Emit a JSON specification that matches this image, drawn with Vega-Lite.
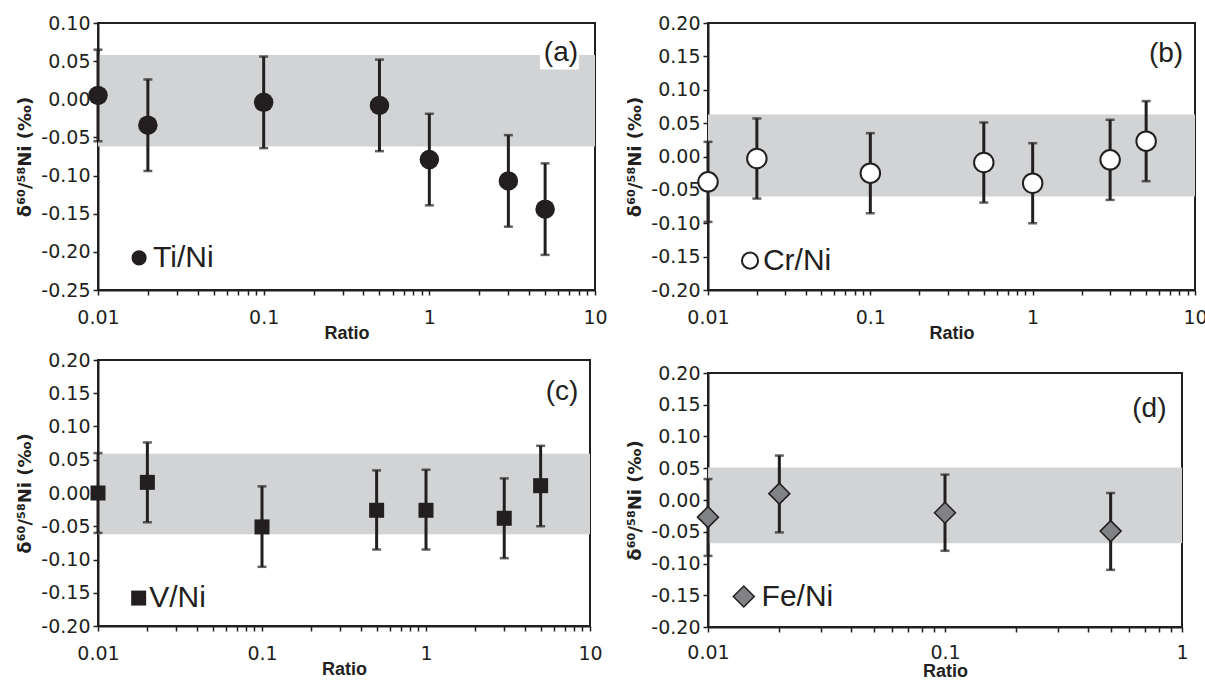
{
  "$schema": "https://vega.github.io/schema/vega-lite/v6.json",
  "background": "white",
  "padding": {"left": 15, "top": 13, "right": 5, "bottom": 2},
  "config": {
    "view": {"stroke": "#231f20", "strokeWidth": 2},
    "axis": {
      "grid": false,
      "domainColor": "#231f20",
      "domainWidth": 2,
      "tickColor": "#231f20",
      "tickWidth": 1.5,
      "tickSize": 5,
      "labelFont": "DejaVu Sans",
      "labelFontSize": 19,
      "labelColor": "#231f20",
      "labelFlush": false,
      "labelOverlap": false,
      "titleFont": "Liberation Sans",
      "titleFontSize": 18,
      "titleFontWeight": "bold",
      "titleColor": "#231f20"
    },
    "axisX": {"labelPadding": 13, "titlePadding": -3},
    "axisY": {"labelPadding": 3, "titlePadding": 6, "titleFont": "DejaVu Sans", "titleFontSize": 18, "tickCount": 30}
  },
  "datasets": {
    "ti": [
      {"ratio": 0.01, "delta": 0.005, "lo": -0.055, "hi": 0.065},
      {"ratio": 0.02, "delta": -0.034, "lo": -0.094, "hi": 0.026},
      {"ratio": 0.1, "delta": -0.004, "lo": -0.064, "hi": 0.056},
      {"ratio": 0.5, "delta": -0.008, "lo": -0.068, "hi": 0.052},
      {"ratio": 1, "delta": -0.079, "lo": -0.139, "hi": -0.019},
      {"ratio": 3, "delta": -0.107, "lo": -0.167, "hi": -0.047},
      {"ratio": 5, "delta": -0.144, "lo": -0.204, "hi": -0.084}
    ],
    "cr": [
      {"ratio": 0.01, "delta": -0.038, "lo": -0.098, "hi": 0.022},
      {"ratio": 0.02, "delta": -0.003, "lo": -0.063, "hi": 0.057},
      {"ratio": 0.1, "delta": -0.025, "lo": -0.085, "hi": 0.035},
      {"ratio": 0.5, "delta": -0.009, "lo": -0.069, "hi": 0.051},
      {"ratio": 1, "delta": -0.040, "lo": -0.100, "hi": 0.020},
      {"ratio": 3, "delta": -0.005, "lo": -0.065, "hi": 0.055},
      {"ratio": 5, "delta": 0.023, "lo": -0.037, "hi": 0.083}
    ],
    "v": [
      {"ratio": 0.01, "delta": 0.0, "lo": -0.060, "hi": 0.060},
      {"ratio": 0.02, "delta": 0.016, "lo": -0.044, "hi": 0.076},
      {"ratio": 0.1, "delta": -0.051, "lo": -0.111, "hi": 0.010},
      {"ratio": 0.5, "delta": -0.026, "lo": -0.085, "hi": 0.034},
      {"ratio": 1, "delta": -0.026, "lo": -0.085, "hi": 0.035},
      {"ratio": 3, "delta": -0.038, "lo": -0.098, "hi": 0.022},
      {"ratio": 5, "delta": 0.011, "lo": -0.050, "hi": 0.071}
    ],
    "fe": [
      {"ratio": 0.01, "delta": -0.027, "lo": -0.088, "hi": 0.033},
      {"ratio": 0.02, "delta": 0.010, "lo": -0.051, "hi": 0.070},
      {"ratio": 0.1, "delta": -0.020, "lo": -0.080, "hi": 0.040},
      {"ratio": 0.5, "delta": -0.049, "lo": -0.110, "hi": 0.011}
    ],
    "bands": [
      {"panel": "a", "lo": -0.062, "hi": 0.058},
      {"panel": "b", "lo": -0.060, "hi": 0.063},
      {"panel": "c", "lo": -0.062, "hi": 0.059},
      {"panel": "d", "lo": -0.068, "hi": 0.051}
    ],
    "one": [{}]
  },
  "hconcat": [
    {
      "spacing": 7,
      "vconcat": [
        {
          "width": 497,
          "height": 267,
          "layer": [
            {
              "data": {"name": "bands"},
              "transform": [{"filter": "datum.panel === 'a'"}],
              "mark": {"type": "rect", "color": "#d1d3d4"},
              "encoding": {
                "x": {"datum": 0.01, "type": "quantitative"},
                "x2": {"datum": 10},
                "y": {"field": "lo", "type": "quantitative", "title": "δ⁶⁰/⁵⁸Ni (‰)"},
                "y2": {"field": "hi"}
              }
            },
            {
              "data": {"name": "ti"},
              "mark": {"type": "errorbar", "color": "#231f20", "thickness": 3, "ticks": {"size": 9, "thickness": 2.5, "color": "#231f20"}},
              "encoding": {
                "x": {"field": "ratio", "type": "quantitative", "title": "Ratio",
                  "scale": {"type": "log", "domain": [0.01, 10]},
                  "axis": {"labelOverlap": false, "values": [0.01,0.02,0.03,0.04,0.05,0.06,0.07,0.08,0.09,0.1,0.2,0.3,0.4,0.5,0.6,0.7,0.8,0.9,1,2,3,4,5,6,7,8,9,10],
                    "labelExpr": "indexof([0.01,0.1,1,10], datum.value) >= 0 ? format(datum.value, '~g') : ''"}},
                "y": {"field": "lo", "type": "quantitative", "title": "δ⁶⁰/⁵⁸Ni (‰)",
                  "scale": {"domain": [-0.25, 0.10], "nice": false, "zero": false},
                  "axis": {"tickCount": 30, "values": [-0.25,-0.2,-0.15,-0.1,-0.05,0,0.05,0.1], "labelExpr": "replace(format(datum.value, '.2f'), '−', '-')"}},
                "y2": {"field": "hi"}
              }
            },
            {
              "data": {"name": "ti"},
              "mark": {"type": "point", "shape": "circle", "filled": true, "color": "#231f20", "size": 380, "opacity": 1},
              "encoding": {
                "x": {"field": "ratio", "type": "quantitative", "title": "Ratio"},
                "y": {"field": "delta", "type": "quantitative", "title": "δ⁶⁰/⁵⁸Ni (‰)"}
              }
            },
            {
              "data": {"name": "one"},
              "mark": {"type": "rect", "color": "white"},
              "encoding": {
                "x": {"datum": 4.65, "type": "quantitative"},
                "x2": {"datum": 8.0},
                "y": {"datum": 0.039, "type": "quantitative"},
                "y2": {"datum": 0.059}
              }
            },
            {
              "data": {"name": "one"},
              "mark": {"type": "text", "text": "(a)", "font": "Liberation Sans", "fontSize": 28, "align": "right", "baseline": "middle", "color": "#231f20"},
              "encoding": {
                "x": {"datum": 7.9, "type": "quantitative"},
                "y": {"datum": 0.061, "type": "quantitative"}
              }
            },
            {
              "data": {"name": "one"},
              "mark": {"type": "point", "shape": "circle", "filled": true, "color": "#231f20", "size": 230, "opacity": 1},
              "encoding": {
                "x": {"datum": 0.0177, "type": "quantitative"},
                "y": {"datum": -0.208, "type": "quantitative"}
              }
            },
            {
              "data": {"name": "one"},
              "mark": {"type": "text", "text": "Ti/Ni", "font": "Liberation Sans", "fontSize": 30, "align": "left", "baseline": "middle", "color": "#231f20"},
              "encoding": {
                "x": {"datum": 0.0215, "type": "quantitative"},
                "y": {"datum": -0.208, "type": "quantitative"}
              }
            }
          ]
        },
        {
          "width": 492,
          "height": 266,
          "layer": [
            {
              "data": {"name": "bands"},
              "transform": [{"filter": "datum.panel === 'c'"}],
              "mark": {"type": "rect", "color": "#d1d3d4"},
              "encoding": {
                "x": {"datum": 0.01, "type": "quantitative"},
                "x2": {"datum": 10},
                "y": {"field": "lo", "type": "quantitative", "title": "δ⁶⁰/⁵⁸Ni (‰)"},
                "y2": {"field": "hi"}
              }
            },
            {
              "data": {"name": "v"},
              "mark": {"type": "errorbar", "color": "#231f20", "thickness": 3, "ticks": {"size": 9, "thickness": 2.5, "color": "#231f20"}},
              "encoding": {
                "x": {"field": "ratio", "type": "quantitative", "title": "Ratio",
                  "scale": {"type": "log", "domain": [0.01, 10]},
                  "axis": {"labelOverlap": false, "values": [0.01,0.02,0.03,0.04,0.05,0.06,0.07,0.08,0.09,0.1,0.2,0.3,0.4,0.5,0.6,0.7,0.8,0.9,1,2,3,4,5,6,7,8,9,10],
                    "labelExpr": "indexof([0.01,0.1,1,10], datum.value) >= 0 ? format(datum.value, '~g') : ''"}},
                "y": {"field": "lo", "type": "quantitative", "title": "δ⁶⁰/⁵⁸Ni (‰)",
                  "scale": {"domain": [-0.2, 0.2], "nice": false, "zero": false},
                  "axis": {"tickCount": 30, "values": [-0.2,-0.15,-0.1,-0.05,0,0.05,0.1,0.15,0.2], "labelExpr": "replace(format(datum.value, '.2f'), '−', '-')"}},
                "y2": {"field": "hi"}
              }
            },
            {
              "data": {"name": "v"},
              "mark": {"type": "point", "shape": "square", "filled": true, "color": "#231f20", "size": 225, "opacity": 1},
              "encoding": {
                "x": {"field": "ratio", "type": "quantitative", "title": "Ratio"},
                "y": {"field": "delta", "type": "quantitative", "title": "δ⁶⁰/⁵⁸Ni (‰)"}
              }
            },
            {
              "data": {"name": "one"},
              "mark": {"type": "text", "text": "(c)", "font": "Liberation Sans", "fontSize": 28, "align": "right", "baseline": "middle", "color": "#231f20"},
              "encoding": {
                "x": {"datum": 8.5, "type": "quantitative"},
                "y": {"datum": 0.152, "type": "quantitative"}
              }
            },
            {
              "data": {"name": "one"},
              "mark": {"type": "point", "shape": "square", "filled": true, "color": "#231f20", "size": 225, "opacity": 1},
              "encoding": {
                "x": {"datum": 0.0177, "type": "quantitative"},
                "y": {"datum": -0.158, "type": "quantitative"}
              }
            },
            {
              "data": {"name": "one"},
              "mark": {"type": "text", "text": "V/Ni", "font": "Liberation Sans", "fontSize": 30, "align": "left", "baseline": "middle", "color": "#231f20"},
              "encoding": {
                "x": {"datum": 0.0205, "type": "quantitative"},
                "y": {"datum": -0.158, "type": "quantitative"}
              }
            }
          ]
        }
      ]
    },
    {
      "spacing": 20,
      "vconcat": [
        {
          "width": 487,
          "height": 267,
          "layer": [
            {
              "data": {"name": "bands"},
              "transform": [{"filter": "datum.panel === 'b'"}],
              "mark": {"type": "rect", "color": "#d1d3d4"},
              "encoding": {
                "x": {"datum": 0.01, "type": "quantitative"},
                "x2": {"datum": 10},
                "y": {"field": "lo", "type": "quantitative", "title": "δ⁶⁰/⁵⁸Ni (‰)"},
                "y2": {"field": "hi"}
              }
            },
            {
              "data": {"name": "cr"},
              "mark": {"type": "errorbar", "color": "#231f20", "thickness": 3, "ticks": {"size": 9, "thickness": 2.5, "color": "#231f20"}},
              "encoding": {
                "x": {"field": "ratio", "type": "quantitative", "title": "Ratio",
                  "scale": {"type": "log", "domain": [0.01, 10]},
                  "axis": {"labelOverlap": false, "values": [0.01,0.02,0.03,0.04,0.05,0.06,0.07,0.08,0.09,0.1,0.2,0.3,0.4,0.5,0.6,0.7,0.8,0.9,1,2,3,4,5,6,7,8,9,10],
                    "labelExpr": "indexof([0.01,0.1,1,10], datum.value) >= 0 ? format(datum.value, '~g') : ''"}},
                "y": {"field": "lo", "type": "quantitative", "title": "δ⁶⁰/⁵⁸Ni (‰)",
                  "scale": {"domain": [-0.2, 0.2], "nice": false, "zero": false},
                  "axis": {"tickCount": 30, "values": [-0.2,-0.15,-0.1,-0.05,0,0.05,0.1,0.15,0.2], "labelExpr": "replace(format(datum.value, '.2f'), '−', '-')"}},
                "y2": {"field": "hi"}
              }
            },
            {
              "data": {"name": "cr"},
              "mark": {"type": "point", "shape": "circle", "filled": true, "fill": "white", "stroke": "#231f20", "strokeWidth": 2, "size": 380, "opacity": 1},
              "encoding": {
                "x": {"field": "ratio", "type": "quantitative", "title": "Ratio"},
                "y": {"field": "delta", "type": "quantitative", "title": "δ⁶⁰/⁵⁸Ni (‰)"}
              }
            },
            {
              "data": {"name": "one"},
              "mark": {"type": "text", "text": "(b)", "font": "Liberation Sans", "fontSize": 28, "align": "right", "baseline": "middle", "color": "#231f20"},
              "encoding": {
                "x": {"datum": 8.45, "type": "quantitative"},
                "y": {"datum": 0.1535, "type": "quantitative"}
              }
            },
            {
              "data": {"name": "one"},
              "mark": {"type": "point", "shape": "circle", "filled": true, "fill": "white", "stroke": "#231f20", "strokeWidth": 2, "size": 260, "opacity": 1},
              "encoding": {
                "x": {"datum": 0.01815, "type": "quantitative"},
                "y": {"datum": -0.156, "type": "quantitative"}
              }
            },
            {
              "data": {"name": "one"},
              "mark": {"type": "text", "text": "Cr/Ni", "font": "Liberation Sans", "fontSize": 30, "align": "left", "baseline": "middle", "color": "#231f20"},
              "encoding": {
                "x": {"datum": 0.0218, "type": "quantitative"},
                "y": {"datum": -0.156, "type": "quantitative"}
              }
            }
          ]
        },
        {
          "width": 474,
          "height": 254,
          "layer": [
            {
              "data": {"name": "bands"},
              "transform": [{"filter": "datum.panel === 'd'"}],
              "mark": {"type": "rect", "color": "#d1d3d4"},
              "encoding": {
                "x": {"datum": 0.01, "type": "quantitative"},
                "x2": {"datum": 1},
                "y": {"field": "lo", "type": "quantitative", "title": "δ⁶⁰/⁵⁸Ni (‰)"},
                "y2": {"field": "hi"}
              }
            },
            {
              "data": {"name": "fe"},
              "mark": {"type": "errorbar", "color": "#231f20", "thickness": 3, "ticks": {"size": 9, "thickness": 2.5, "color": "#231f20"}},
              "encoding": {
                "x": {"field": "ratio", "type": "quantitative", "title": "Ratio",
                  "scale": {"type": "log", "domain": [0.01, 1]},
                  "axis": {"labelOverlap": false, "labelPadding": 11, "titlePadding": 0, "values": [0.01,0.02,0.03,0.04,0.05,0.06,0.07,0.08,0.09,0.1,0.2,0.3,0.4,0.5,0.6,0.7,0.8,0.9,1],
                    "labelExpr": "indexof([0.01,0.1,1,10], datum.value) >= 0 ? format(datum.value, '~g') : ''"}},
                "y": {"field": "lo", "type": "quantitative", "title": "δ⁶⁰/⁵⁸Ni (‰)",
                  "scale": {"domain": [-0.2, 0.2], "nice": false, "zero": false},
                  "axis": {"tickCount": 30, "values": [-0.2,-0.15,-0.1,-0.05,0,0.05,0.1,0.15,0.2], "labelExpr": "replace(format(datum.value, '.2f'), '−', '-')"}},
                "y2": {"field": "hi"}
              }
            },
            {
              "data": {"name": "fe"},
              "mark": {"type": "point", "shape": "diamond", "filled": true, "fill": "#808285", "stroke": "#231f20", "strokeWidth": 1.5, "size": 440, "opacity": 1},
              "encoding": {
                "x": {"field": "ratio", "type": "quantitative", "title": "Ratio"},
                "y": {"field": "delta", "type": "quantitative", "title": "δ⁶⁰/⁵⁸Ni (‰)"}
              }
            },
            {
              "data": {"name": "one"},
              "mark": {"type": "text", "text": "(d)", "font": "Liberation Sans", "fontSize": 28, "align": "right", "baseline": "middle", "color": "#231f20"},
              "encoding": {
                "x": {"datum": 0.86, "type": "quantitative"},
                "y": {"datum": 0.144, "type": "quantitative"}
              }
            },
            {
              "data": {"name": "one"},
              "mark": {"type": "point", "shape": "diamond", "filled": true, "fill": "#808285", "stroke": "#231f20", "strokeWidth": 1.5, "size": 440, "opacity": 1},
              "encoding": {
                "x": {"datum": 0.01416, "type": "quantitative"},
                "y": {"datum": -0.152, "type": "quantitative"}
              }
            },
            {
              "data": {"name": "one"},
              "mark": {"type": "text", "text": "Fe/Ni", "font": "Liberation Sans", "fontSize": 30, "align": "left", "baseline": "middle", "color": "#231f20"},
              "encoding": {
                "x": {"datum": 0.01683, "type": "quantitative"},
                "y": {"datum": -0.152, "type": "quantitative"}
              }
            }
          ]
        }
      ]
    }
  ],
  "spacing": 16
}
